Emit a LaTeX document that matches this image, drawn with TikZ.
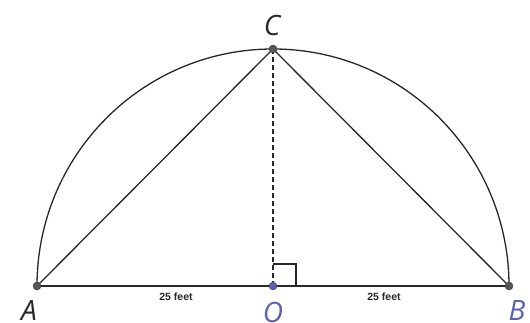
\documentclass[tikz,border=0pt]{standalone}
\usepackage{fontspec}
\setmainfont{Open Sans}
\newfontfamily\lblfont{Liberation Sans}
\definecolor{ptblue}{RGB}{95,95,175}
\definecolor{ptgray}{RGB}{85,85,85}
\definecolor{lngray}{RGB}{40,40,40}
\begin{document}
\begin{tikzpicture}[x=1pt,y=-1pt,
  seg/.style={draw=lngray,line width=1.3pt},
  dot/.style={circle,fill=ptgray,draw=ptgray!70!black,inner sep=0pt,minimum size=8pt},
  bdot/.style={circle,fill=ptblue,draw=ptblue!70!black,inner sep=0pt,minimum size=8pt},
  ptlabel/.style={font=\itshape\fontsize{28}{28}\selectfont,inner sep=0pt},
  dimlabel/.style={font=\lblfont\bfseries\fontsize{10.5}{10.5}\selectfont,inner sep=0pt,text=lngray}]
\useasboundingbox (0,0) rectangle (530,323);
\coordinate (pA) at (37,286);
\coordinate (pB) at (509,286);
\coordinate (pO) at (273,286);
\coordinate (pC) at (273,49);
\draw[seg] (pB) arc[start angle=0,end angle=-180,x radius=236pt,y radius=-237pt];
\draw[seg] (pA) -- (pB);
\draw[seg] (pA) -- (pC) -- (pB);
\draw[seg,dashed,dash pattern=on 5pt off 3pt] (pC) -- (pO);
\draw[line width=1.3pt,lngray] (273,264) -- (296,264) -- (296,286);
\node[dot] (A) at (pA) {};
\node[dot] (B) at (pB) {};
\node[dot] (C) at (pC) {};
\node[bdot] (O) at (pO) {};
\node[ptlabel,text=lngray] (lA) at (29,311) {A};
\node[ptlabel,text=ptblue] (lO) at (273,312) {O};
\node[ptlabel,text=ptblue] (lB) at (517,311) {B};
\node[ptlabel,text=lngray] (lC) at (272,26) {C};
\node[dimlabel] (d1) at (176,297) {25 feet};
\node[dimlabel] (d2) at (384,297) {25 feet};
\end{tikzpicture}
\end{document}
